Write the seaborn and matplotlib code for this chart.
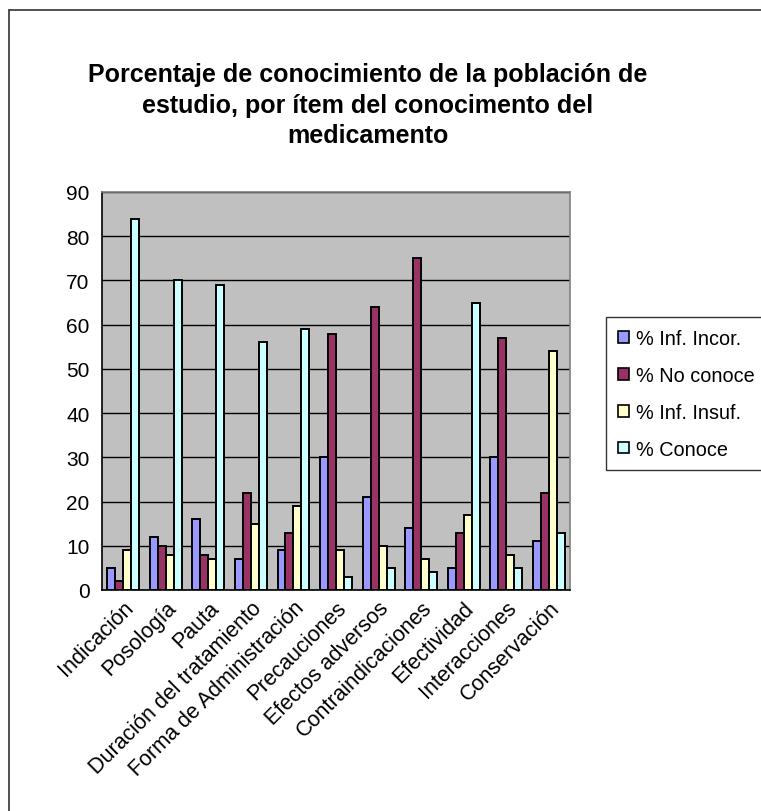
import matplotlib
matplotlib.use("Agg")
import matplotlib.pyplot as plt
import matplotlib.transforms as mtransforms
import seaborn as sns
import pandas as pd
from matplotlib.patches import Patch
from matplotlib.lines import Line2D

categories = ["Indicación", "Posología", "Pauta", "Duración del tratamiento",
              "Forma de Administración", "Precauciones", "Efectos adversos",
              "Contraindicaciones", "Efectividad", "Interacciones", "Conservación"]
series_names = ["% Inf. Incor.", "% No conoce", "% Inf. Insuf.", "% Conoce"]
inf_incor = [5, 12, 16, 7, 9, 30, 21, 14, 5, 30, 11]
no_conoce = [2, 10, 8, 22, 13, 58, 64, 75, 13, 57, 22]
inf_insuf = [9, 8, 7, 15, 19, 9, 10, 7, 17, 8, 54]
conoce = [84, 70, 69, 56, 59, 3, 5, 4, 65, 5, 13]
yticks = list(range(0, 91, 10))
colors = ["#9999FF", "#993366", "#FFFFCC", "#CCFFFF"]

rows = []
for name, vals in zip(series_names, [inf_incor, no_conoce, inf_insuf, conoce]):
    for c, v in zip(categories, vals):
        rows.append({"cat": c, "serie": name, "val": v})
df = pd.DataFrame(rows)

sns.set_theme(style="white")
plt.rcParams["font.family"] = ["Liberation Sans", "DejaVu Sans"]
plt.rcParams["text.color"] = "black"
plt.rcParams["xtick.color"] = "black"
plt.rcParams["ytick.color"] = "black"
plt.rcParams["xtick.labelcolor"] = "black"
plt.rcParams["ytick.labelcolor"] = "black"

fig = plt.figure(figsize=(7.61, 8.12), dpi=100)
ax = fig.add_axes([102/761, 1-591/812, 468/761, 398/812])
sns.barplot(data=df, x="cat", y="val", hue="serie", palette=colors, order=categories,
            hue_order=series_names, width=0.75, edgecolor="black", linewidth=1.4,
            ax=ax, legend=False, saturation=1)
ax.set_facecolor("#C0C0C0")
ax.set_ylim(0, 90)
ax.set_xlim(-0.5, len(categories) - 0.5)
ax.set_yticks(yticks)
ax.set_yticklabels([str(t) for t in yticks], fontsize=15)
ax.yaxis.grid(True, color="black", linewidth=1)
ax.set_axisbelow(True)
ax.set_xlabel("")
ax.set_ylabel("")
ax.set_xticks([i - 0.5 for i in range(len(categories) + 1)], minor=False)
ax.set_xticklabels([])
ax.set_xticks(range(len(categories)), minor=True)
ax.set_xticklabels(categories, minor=True, rotation=45, ha="right",
                   rotation_mode="anchor", fontsize=15.5)
offset = mtransforms.ScaledTranslation(-5/100, 0, fig.dpi_scale_trans)
for lab in ax.get_xticklabels(minor=True):
    lab.set_transform(lab.get_transform() + offset)
ax.tick_params(axis="x", which="minor", length=0, pad=5)
ax.tick_params(axis="x", which="major", length=5, direction="out", color="black", width=1)
ax.tick_params(axis="y", length=5, direction="out", color="black", width=1, pad=4)
for s in ["left", "bottom"]:
    ax.spines[s].set_color("black")
    ax.spines[s].set_linewidth(1.2)
ax.spines["top"].set_color("#808080")
ax.spines["right"].set_color("#808080")
ax.spines["top"].set_linewidth(1.2)
ax.spines["right"].set_linewidth(1.2)

handles = [Patch(facecolor=c, edgecolor="black", linewidth=1.2) for c in colors]
leg = fig.legend(handles, series_names, loc="upper left",
                 bbox_to_anchor=(606/761, 1-318/812), fontsize=14.3, frameon=True,
                 fancybox=False, edgecolor="black", handlelength=0.55, handleheight=0.55,
                 handletextpad=0.35, labelspacing=0.9, borderpad=0.6, borderaxespad=0)
leg.get_frame().set_linewidth(1)

fig.text(368/761, 1-63/812,
         "Porcentaje de conocimiento de la población de\nestudio, por ítem del conocimento del\nmedicamento",
         ha="center", va="top", fontsize=18, fontweight="bold", linespacing=1.35)

fig.add_artist(Line2D([9/761, 1], [1-11/812, 1-11/812], transform=fig.transFigure,
                      color="#333333", linewidth=1.2))
fig.add_artist(Line2D([9/761, 9/761], [0, 1-11/812], transform=fig.transFigure,
                      color="#333333", linewidth=1.2))

fig.savefig("out.png", dpi=100)
